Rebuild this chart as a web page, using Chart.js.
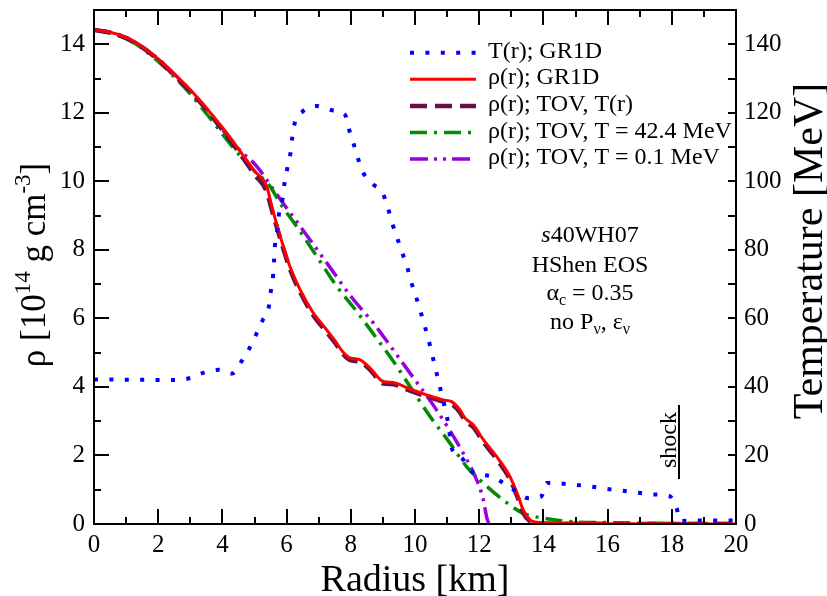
<!DOCTYPE html>
<html><head><meta charset="utf-8">
<script src="https://cdn.jsdelivr.net/npm/chart.js@4/dist/chart.umd.min.js"></script>
<style>html,body{margin:0;padding:0;background:#fff;}canvas{display:block;}</style>
</head><body>
<canvas id="c" width="827" height="596"></canvas>
<script>
// ---- data ----
const tempR = [0,0.5,1,1.5,2,2.5,3,3.4,3.9,4.3,4.6,4.85,5.05,5.25,5.45,5.51,5.58,5.61,5.64,5.71,5.76,5.87,5.93,6.02,6.12,6.17,6.25,6.5,6.93,7.38,7.82,7.95,8.09,8.23,8.4,8.7,9.0,9.16,9.29,9.44,9.6,9.76,9.88,10.03,10.17,10.3,10.43,10.54,10.65,10.76,10.88,10.99,11.07,11.12,11.42,11.78,12.13,12.42,12.76,13.14,13.54,13.93,14.11,14.56,15.04,15.5,16.0,16.48,16.97,17.45,17.92,18.14,18.26,18.74,19.22,19.71,20];
const tempT = [42.2,42.2,42.1,42.1,42.0,42.0,42.6,44.1,45.0,43.9,47.5,51.4,55.3,59.4,63.6,68,72.5,76.9,81.6,85.8,90.3,94.7,99.2,103.7,108.2,112.4,116.9,120.4,122,120.8,119.4,115,110.9,106.5,102.3,99.1,96.4,92.1,87.8,83.6,79.2,74.9,70.7,66.4,62.1,57.9,53.5,49.2,44.9,40.6,36,31.5,27.2,22.8,19.6,15.2,14.3,13.8,11.9,9.6,7.5,8.0,12.0,11.8,11.4,10.9,10.2,9.7,9.1,8.6,8.2,5.0,0.9,1.0,1.0,1.0,1.0];

const grR  = [0,0.5,1,1.5,2,2.5,3,3.5,4,4.5,5,5.38,5.53,5.69,5.9,6.1,6.42,6.83,7.2,7.5,7.75,7.97,8.29,8.6,9.01,9.32,9.84,10.36,10.88,11.14,11.4,11.56,11.82,12.13,12.54,12.96,13.22,13.37,13.58,13.79,14.5,16,20];
const grRho = [14.42,14.35,14.2,13.93,13.57,13.13,12.67,12.14,11.57,10.95,10.3,9.86,9.3,8.75,8.1,7.52,6.84,6.16,5.72,5.36,5.03,4.85,4.79,4.55,4.16,4.13,3.94,3.77,3.62,3.57,3.33,3.09,2.89,2.46,1.97,1.38,0.8,0.41,0.12,0.05,0.02,0.01,0];

const tovTR = [0,0.5,1,1.5,2,2.5,3,3.5,4,4.5,5,5.38,5.53,5.69,5.9,6.1,6.42,6.83,7.2,7.5,7.75,7.97,8.29,8.6,9.01,9.32,9.84,10.36,10.88,11.14,11.4,11.56,11.82,12.13,12.54,12.96,13.22,13.37,13.58,13.79,14.5,20];
const tovTRho = [14.42,14.34,14.18,13.91,13.55,13.1,12.63,12.1,11.5,10.87,10.2,9.7,9.2,8.68,8.03,7.45,6.77,6.09,5.65,5.3,4.97,4.79,4.73,4.5,4.1,4.08,3.89,3.72,3.57,3.5,3.26,3.02,2.82,2.39,1.9,1.3,0.72,0.33,0.08,0.03,0.01,0];

const tov42R = [0,0.5,1,1.5,2,2.5,3,3.5,4,4.5,5,5.48,5.79,6.31,6.94,7.56,8.18,8.7,9.33,10.05,10.47,11.09,11.61,12.13,12.75,13.37,14.0,14.83,16,18,20];
const tov42Rho = [14.42,14.33,14.17,13.88,13.5,13.05,12.55,11.98,11.38,10.8,10.3,9.86,9.37,8.69,7.81,6.94,6.21,5.55,4.74,3.72,3.14,2.36,1.67,1.19,0.7,0.31,0.17,0.07,0.04,0.02,0.01];

const tov01R = [0,0.5,1,1.5,2,2.5,3,3.5,4,4.5,5.07,5.69,6.42,7.25,8.08,8.7,9.01,9.84,10.67,11.5,11.92,12.13,12.23,12.3];
const tov01Rho = [14.42,14.35,14.2,13.93,13.57,13.13,12.65,12.12,11.52,10.95,10.44,9.62,8.69,7.62,6.55,5.87,5.48,4.41,3.33,2.07,1.29,0.7,0.21,0];

const xTicks = [0,2,4,6,8,10,12,14,16,18,20];
const yTicks = [0,2,4,6,8,10,12,14];
const tTicks = [0,20,40,60,80,100,120,140];
const legendLabels = ['T(r); GR1D','ρ(r); GR1D','ρ(r); TOV, T(r)','ρ(r); TOV, T = 42.4 MeV','ρ(r); TOV, T = 0.1 MeV'];

const FONT = "'Liberation Serif','Times New Roman',serif";
const pts = (xs, ys) => xs.map((x, i) => ({x: x, y: ys[i]}));

const datasets = [
  {label: legendLabels[0], data: pts(tempR, tempT), yAxisID: 'y2', borderColor: '#0000ff', borderWidth: 4, borderDash: [4, 11.4], borderCapStyle: 'butt', order: 0},
  {label: legendLabels[1], data: pts(grR, grRho), yAxisID: 'y', borderColor: '#ff0000', borderWidth: 3, order: 1},
  {label: legendLabels[2], data: pts(tovTR, tovTRho), yAxisID: 'y', borderColor: '#6b0f4b', borderWidth: 4.5, borderDash: [17, 8], order: 2},
  {label: legendLabels[3], data: pts(tov42R, tov42Rho), yAxisID: 'y', borderColor: '#008c00', borderWidth: 3.5, borderDash: [17, 7, 3, 7], order: 3},
  {label: legendLabels[4], data: pts(tov01R, tov01Rho), yAxisID: 'y', borderColor: '#9900dd', borderWidth: 3.5, borderDash: [18, 6, 3, 6, 3, 6], order: 4}
];
datasets.forEach(d => { d.pointRadius = 0; d.fill = false; d.cubicInterpolationMode = 'monotone'; });

function drawRuns(ctx, runs, cx, cy, align) {
  let total = 0;
  runs.forEach(r => { ctx.font = (r.italic ? 'italic ' : '') + r.size + 'px ' + FONT; r.w = ctx.measureText(r.t).width; total += r.w; });
  let x = align === 'left' ? cx : cx - total / 2;
  runs.forEach(r => {
    ctx.font = (r.italic ? 'italic ' : '') + r.size + 'px ' + FONT;
    ctx.textAlign = 'left'; ctx.textBaseline = 'alphabetic';
    ctx.fillText(r.t, x, cy + (r.dy || 0));
    x += r.w;
  });
}

const deco = {
  id: 'deco',
  afterDraw(chart) {
    const ctx = chart.ctx, a = chart.chartArea;
    const xs = chart.scales.x, ys = chart.scales.y, ts = chart.scales.y2;
    ctx.save();
    ctx.strokeStyle = '#000'; ctx.fillStyle = '#000'; ctx.lineWidth = 2; ctx.setLineDash([]);
    ctx.strokeRect(a.left, a.top, a.right - a.left, a.bottom - a.top);
    for (let v = 0; v <= 20; v++) {
      const px = Math.round(xs.getPixelForValue(v));
      const L = v % 2 === 0 ? 15 : 7;
      ctx.beginPath(); ctx.moveTo(px, a.bottom); ctx.lineTo(px, a.bottom - L); ctx.stroke();
      ctx.beginPath(); ctx.moveTo(px, a.top); ctx.lineTo(px, a.top + L); ctx.stroke();
    }
    for (let v = 0; v <= 15; v++) {
      const py = Math.round(ys.getPixelForValue(v));
      const L = v % 2 === 0 ? 15 : 7;
      ctx.beginPath(); ctx.moveTo(a.left, py); ctx.lineTo(a.left + L, py); ctx.stroke();
    }
    for (let v = 0; v <= 150; v += 10) {
      const py = Math.round(ts.getPixelForValue(v));
      ctx.beginPath(); ctx.moveTo(a.right, py); ctx.lineTo(a.right - 8, py); ctx.stroke();
    }
    ctx.font = '38px ' + FONT; ctx.textAlign = 'center'; ctx.textBaseline = 'alphabetic';
    ctx.fillText('Radius [km]', (a.left + a.right) / 2, 591);
    ctx.save(); ctx.translate(45, 265); ctx.rotate(-Math.PI / 2);
    drawRuns(ctx, [{t: 'ρ [10', size: 35}, {t: '14', size: 23, dy: -15}, {t: ' g cm', size: 35}, {t: '-3', size: 23, dy: -15}, {t: ']', size: 35}], 0, 0, 'center');
    ctx.restore();
    ctx.save(); ctx.translate(822, 251); ctx.rotate(-Math.PI / 2);
    ctx.font = '42px ' + FONT; ctx.textAlign = 'center'; ctx.fillText('Temperature [MeV]', 0, 0);
    ctx.restore();
    const rowsY = [52.7, 79.3, 106, 132.5, 159];
    chart.data.datasets.forEach((d, i) => {
      ctx.save();
      ctx.strokeStyle = d.borderColor; ctx.lineWidth = d.borderWidth; ctx.setLineDash(d.borderDash || []); ctx.lineCap = 'butt';
      ctx.beginPath(); ctx.moveTo(410, rowsY[i]); ctx.lineTo(476, rowsY[i]); ctx.stroke();
      ctx.restore();
      ctx.font = '24px ' + FONT; ctx.textAlign = 'left'; ctx.textBaseline = 'alphabetic'; ctx.fillStyle = '#000';
      ctx.fillText(d.label, 488, rowsY[i] + 5);
    });
    drawRuns(ctx, [{t: 's', size: 24, italic: true}, {t: '40WH07', size: 24}], 590, 242, 'center');
    drawRuns(ctx, [{t: 'HShen EOS', size: 24}], 590, 271.5, 'center');
    drawRuns(ctx, [{t: 'α', size: 24}, {t: 'c', size: 16, dy: 5}, {t: ' = 0.35', size: 24}], 590, 300, 'center');
    drawRuns(ctx, [{t: 'no P', size: 24}, {t: 'ν', size: 16, dy: 5}, {t: ', ε', size: 24}, {t: 'ν', size: 16, dy: 5}], 590, 328.5, 'center');
    ctx.save(); ctx.translate(676, 440); ctx.rotate(-Math.PI / 2);
    ctx.font = '24px ' + FONT; ctx.textAlign = 'center'; ctx.fillText('shock', 0, 0);
    ctx.restore();
    ctx.lineWidth = 2;
    ctx.beginPath(); ctx.moveTo(679, 405); ctx.lineTo(679, 479); ctx.stroke();
    ctx.restore();
  }
};

const tickFont = {family: FONT, size: 25};
const noPadV = s => { s.paddingTop = 0; s.paddingBottom = 0; };
new Chart(document.getElementById('c'), {
  type: 'line',
  data: {datasets: datasets},
  options: {
    responsive: false, animation: false, devicePixelRatio: 1,
    layout: {padding: {top: 10, left: 0, right: 0, bottom: 0}},
    plugins: {legend: {display: false}, tooltip: {enabled: false}},
    scales: {
      x: {type: 'linear', position: 'bottom', min: 0, max: 20,
          afterBuildTicks: s => { s.ticks = xTicks.map(v => ({value: v})); },
          afterFit: s => { s.height = 72; s.paddingLeft = 0; s.paddingRight = 0; },
          grid: {display: false, drawTicks: false}, border: {display: false},
          ticks: {font: tickFont, color: '#000', padding: 6, maxRotation: 0, autoSkip: false}},
      y: {type: 'linear', position: 'left', min: 0, max: 15,
          afterBuildTicks: s => { s.ticks = yTicks.map(v => ({value: v})); },
          afterFit: s => { s.width = 94; noPadV(s); },
          grid: {display: false, drawTicks: false}, border: {display: false},
          ticks: {font: tickFont, color: '#000', padding: 9}},
      y2: {type: 'linear', position: 'right', min: 0, max: 150,
          afterBuildTicks: s => { s.ticks = tTicks.map(v => ({value: v})); },
          afterFit: s => { s.width = 91; noPadV(s); },
          grid: {display: false, drawTicks: false}, border: {display: false},
          ticks: {font: tickFont, color: '#000', padding: 8}}
    }
  },
  plugins: [deco]
});
</script>
</body></html>
